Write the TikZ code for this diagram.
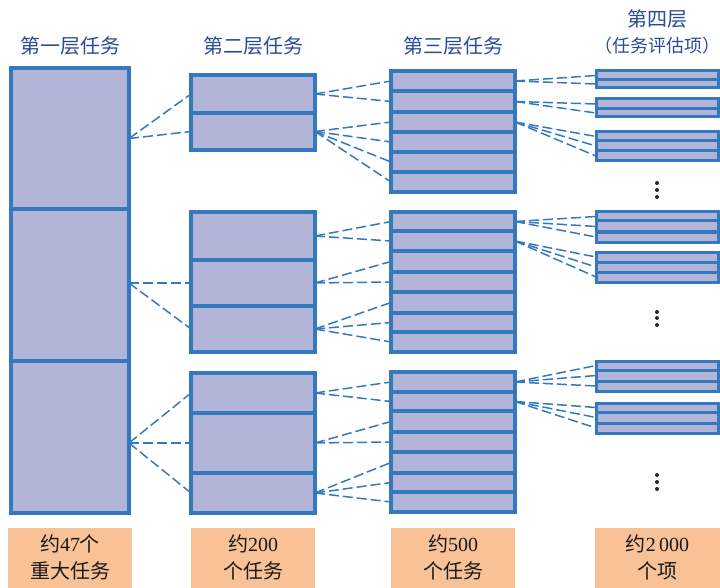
\documentclass[tikz,border=0pt]{standalone}
\usepackage{fontspec}
\setmainfont{Liberation Serif}
\newfontfamily\cjk{Noto Sans CJK SC}
\definecolor{cellfill}{HTML}{B2B4D8}
\definecolor{cellline}{HTML}{3479BE}
\definecolor{titleblue}{HTML}{2A4C94}
\definecolor{tagfill}{HTML}{F8C296}
% one stack of task cells: name, x centre, width, top/bottom pairs
\newcommand{\cellgroup}[4]{%
  \foreach \t/\b [count=\i] in {#4}
    \node[cell, minimum width=#3, minimum height={\b-\t}] (#1-\i) at (#2,{(\t+\b)/2}) {};}

\begin{document}
\begin{tikzpicture}[x=1pt, y=-1pt,
  cell/.style={draw=cellline, fill=cellfill, line width=3.3pt, inner sep=0pt, outer sep=0pt},
  link/.style={draw=cellline, line width=1.5pt, dash pattern=on 10pt off 4pt},
  title/.style={text=titleblue, font=\cjk\fontsize{20}{24}\selectfont},
  tag/.style={fill=tagfill, minimum width=124pt, minimum height=60pt, inner sep=0pt,
    align=center, text=black!90, font=\cjk\fontsize{20}{27}\selectfont}]
  \useasboundingbox (0,0) rectangle (720,588);

  % 第一层
  \cellgroup{L1}{70}{118}{68/209, 209/361, 361/513}
  % 第二层
  \cellgroup{L2a}{253}{124}{75/113, 113/150}
  \cellgroup{L2b}{253}{124}{212/260, 260/306, 306/352}
  \cellgroup{L2c}{253}{124}{373/413, 413/473, 473/513}
  % 第三层
  \cellgroup{L3a}{453}{124}{71/91, 91/112, 112/132, 132/152, 152/172, 172/192}
  \cellgroup{L3b}{453}{124}{212/231, 231/251, 251/272, 272/292, 292/313, 313/332, 332/352}
  \cellgroup{L3c}{453}{124}{372/392, 392/411, 411/432, 432/452, 452/473, 473/492, 492/512}
  % 第四层
  \begin{scope}[cell/.append style={line width=3pt}]
  \cellgroup{L4a}{657}{122}{71/80, 80/88}
  \cellgroup{L4b}{657}{122}{99/109, 109/117}
  \cellgroup{L4c}{657}{122}{132/141, 141/151, 151/161}
  \cellgroup{L4d}{657}{122}{212/221, 221/232, 232/242}
  \cellgroup{L4e}{657}{122}{252/262, 262/272, 272/282}
  \cellgroup{L4f}{657}{122}{361/370, 370/381, 381/391}
  \cellgroup{L4g}{657}{122}{403/412, 412/423, 423/433}
  \end{scope}

  % 连线
  \draw[link] (L1-1.east) -- (L2a-1.west);
  \draw[link] (L1-1.east) -- (L2a-2.west);
  \foreach \d in {L2b-2, L2b-3}
    \draw[link] (L1-2.east |- L2b-2.west) -- (\d.west);
  \foreach \d in {L2c-1, L2c-2, L2c-3}
    \draw[link] (L1-3.east |- L2c-2.west) -- (\d.west);
  \foreach \s/\d in {L2a-1/L3a-1, L2a-1/L3a-2, L2a-2/L3a-3, L2a-2/L3a-4, L2a-2/L3a-5, L2a-2/L3a-6,
      L2b-1/L3b-1, L2b-1/L3b-2, L2b-2/L3b-3, L2b-2/L3b-4, L2b-3/L3b-5, L2b-3/L3b-6, L2b-3/L3b-7,
      L2c-1/L3c-1, L2c-1/L3c-2, L2c-2/L3c-3, L2c-2/L3c-4, L2c-3/L3c-5, L2c-3/L3c-6, L2c-3/L3c-7,
      L3a-1/L4a-1, L3a-1/L4a-2, L3a-2/L4b-1, L3a-2/L4b-2, L3a-3/L4c-1, L3a-3/L4c-2, L3a-3/L4c-3,
      L3b-1/L4d-1, L3b-1/L4d-2, L3b-1/L4d-3, L3b-2/L4e-1, L3b-2/L4e-2, L3b-2/L4e-3,
      L3c-1/L4f-1, L3c-1/L4f-2, L3c-1/L4f-3, L3c-2/L4g-1, L3c-2/L4g-2, L3c-2/L4g-3}
    \draw[link] (\s.east) -- (\d.west);

  % 省略号
  \foreach \y in {183, 190, 197, 312, 318, 325, 475, 482, 489}
    \fill[black!85] (657,\y) circle (2pt);

  \node[title] (t1) at (70,46) {第一层任务};
  \node[title] (t2) at (253,46) {第二层任务};
  \node[title] (t3) at (453,46) {第三层任务};
  \node[title] (t4) at (657,19) {第四层};
  \node[title, font=\cjk\fontsize{18}{22}\selectfont] (t5) at (657,46) {（任务评估项）};

  \node[tag, anchor=south] (n1) at (70,588) {约{\rmfamily 47}个\\重大任务};
  \node[tag, anchor=south] (n2) at (253,588) {约{\rmfamily 200}\\个任务};
  \node[tag, anchor=south] (n3) at (453,588) {约{\rmfamily 500}\\个任务};
  \node[tag, anchor=south, minimum width=125pt] (n4) at (657.5,588) {约{\rmfamily 2\,000}\\个项};
\end{tikzpicture}
\end{document}
